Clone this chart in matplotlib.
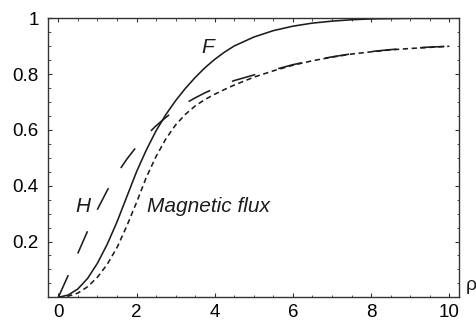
import matplotlib
matplotlib.use("Agg")
import matplotlib.pyplot as plt
from matplotlib.ticker import MultipleLocator, FixedLocator

plt.rcParams['font.family'] = ['Liberation Sans', 'DejaVu Sans']
plt.rcParams['lines.scale_dashes'] = False

rho = [0, 0.25, 0.5, 0.75, 1.0, 1.25, 1.5, 1.75, 2.0, 2.25, 2.5, 2.75, 3.0,
       3.25, 3.5, 3.75, 4.0, 4.25, 4.5, 5.0, 5.5, 6.0, 6.5, 7.0, 7.5, 8.0,
       8.5, 9.0, 9.5, 10.0]
F = [0, 0.008, 0.03, 0.068, 0.122, 0.19, 0.27, 0.36, 0.45, 0.528, 0.597,
     0.655, 0.705, 0.749, 0.788, 0.823, 0.853, 0.879, 0.901, 0.933, 0.956,
     0.972, 0.983, 0.99, 0.995, 0.998, 0.999, 1.0, 1.0, 1.0]
H = [0, 0.078, 0.158, 0.238, 0.315, 0.383, 0.443, 0.495, 0.54, 0.58, 0.615,
     0.645, 0.672, 0.695, 0.715, 0.733, 0.749, 0.764, 0.777, 0.797, 0.815,
     0.834, 0.849, 0.862, 0.873, 0.881, 0.888, 0.893, 0.897, 0.90]
flux = [0, 0.004, 0.015, 0.038, 0.072, 0.118, 0.178, 0.255, 0.34, 0.43,
        0.505, 0.568, 0.618, 0.656, 0.686, 0.709, 0.728, 0.745, 0.761,
        0.789, 0.812, 0.832, 0.848, 0.861, 0.872, 0.88, 0.887, 0.892, 0.896,
        0.90]

xticks = [0, 2, 4, 6, 8, 10]
yticks = [0.2, 0.4, 0.6, 0.8, 1.0]
ytick_labels = ["0.2", "0.4", "0.6", "0.8", "1"]

col = "#1c1c1c"
fig = plt.figure(figsize=(4.76, 3.22), dpi=100)
ax = fig.add_axes([0.1015, 0.0767, 0.8635, 0.8663])

ax.plot(rho, F, color=col, lw=1.15, solid_capstyle='butt')
ax.plot(rho, flux, color=col, lw=1.15, dashes=(3.8, 2.6))
ax.plot(rho, H, color=col, lw=1.15, dashes=(17.5, 17.0))

ax.set_xlim(-0.256, 10.256)
ax.set_ylim(0, 1.0)

ax.xaxis.set_major_locator(FixedLocator(xticks))
ax.xaxis.set_minor_locator(MultipleLocator(0.5))
ax.yaxis.set_major_locator(FixedLocator(yticks))
ax.set_yticklabels(ytick_labels)
ax.yaxis.set_minor_locator(MultipleLocator(0.05))

ax.tick_params(which='both', direction='in', top=True, right=True,
               labeltop=False, labelright=False, color='#333333')
ax.tick_params(which='major', length=3, width=0.8, labelsize=13.5)
ax.tick_params(axis='x', which='major', pad=5)
ax.tick_params(axis='y', which='major', pad=7)
ax.tick_params(which='minor', length=1.8, width=0.6)
for s in ax.spines.values():
    s.set_linewidth(1.0)
    s.set_color('#333333')

ax.text(3.83, 0.896, "F", style='italic', fontsize=15, ha='center', va='center', color=col)
ax.text(0.64, 0.325, "H", style='italic', fontsize=15, ha='center', va='center', color=col)
ax.text(2.26, 0.325, "Magnetic flux", style='italic', fontsize=15, ha='left', va='center', color=col)

fig.text(471.7 / 476, 1 - 286 / 322, "ρ", fontsize=14, ha='center', va='center', color=col)

fig.savefig("out.png", dpi=100)
